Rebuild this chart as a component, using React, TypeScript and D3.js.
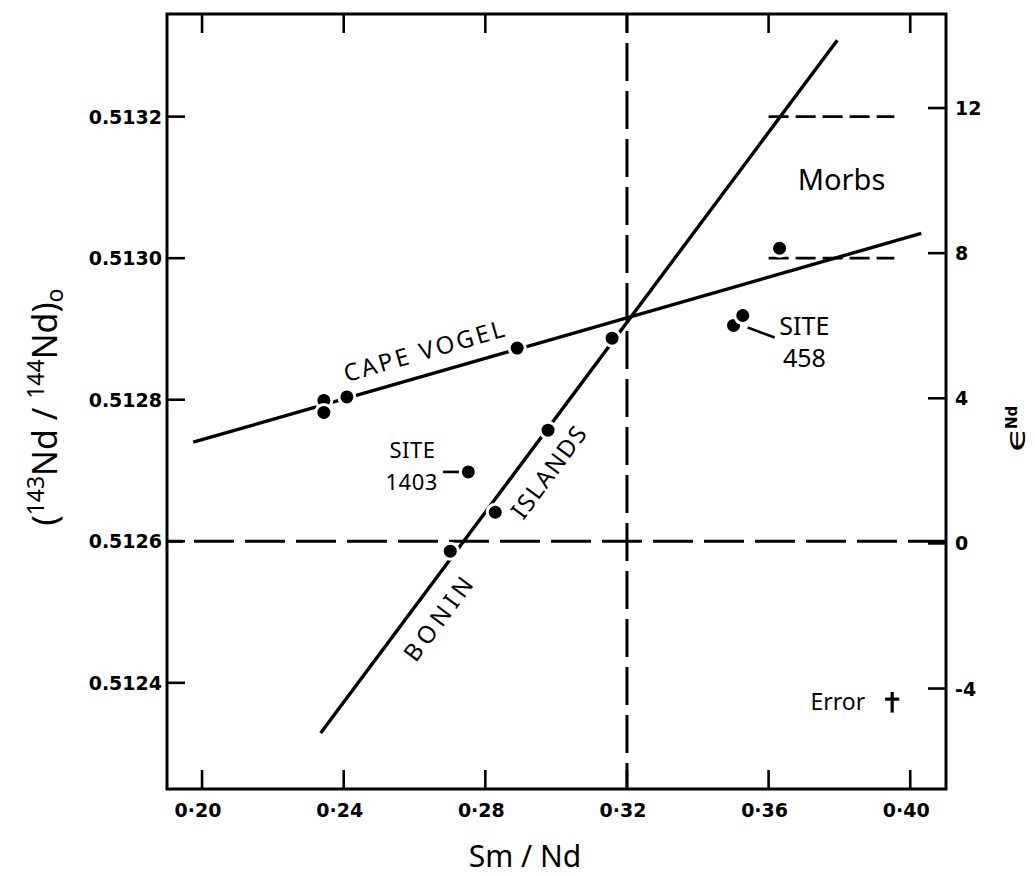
import React from "react";
import * as d3 from "d3";

// ---------- data ----------
const xTicks = [0.2, 0.24, 0.28, 0.32, 0.36, 0.4];
const xTickLabels = ["0·20", "0·24", "0·28", "0·32", "0·36", "0·40"];
const yTicks = [0.5124, 0.5126, 0.5128, 0.513, 0.5132];
const yTickLabels = ["0.5124", "0.5126", "0.5128", "0.5130", "0.5132"];
const epsTicks = [-4, 0, 4, 8, 12];
const epsTickLabels = ["-4", "0", "4", "8", "12"];
const R_REF = 0.512597; // ratio at which eps = 0

const capeVogelLine: [number, number][] = [
  [0.1975, 0.51274],
  [0.4031, 0.513035],
];
const boninLine: [number, number][] = [
  [0.2335, 0.512329],
  [0.3794, 0.513308],
];
const capeVogelPoints: [number, number][] = [
  [0.2344, 0.512799],
  [0.2344, 0.512782],
  [0.2409, 0.512804],
  [0.289, 0.512873],
];
const boninPoints: [number, number][] = [
  [0.2701, 0.512586],
  [0.2828, 0.512641],
  [0.2977, 0.512757],
  [0.3158, 0.512887],
];
const site1403Points: [number, number][] = [[0.2752, 0.512698]];
const site458Points: [number, number][] = [
  [0.3501, 0.512905],
  [0.3527, 0.512919],
];
const morbPoints: [number, number][] = [[0.3631, 0.513014]];

const refSmNd = 0.32;
const refRatio = 0.5126;
const morbBandX = [0.36, 0.3955];
const morbBandY = [0.513, 0.5132];

const site1403Leader: [number, number][] = [
  [0.268, 0.512698],
  [0.2726, 0.512698],
];
const site458Leader: [number, number][] = [
  [0.3541, 0.512902],
  [0.3617, 0.512888],
];
const errorBar = { x: 0.3949, y: 0.512377, yTop: 0.512387, yBottom: 0.512358, xHalf: 0.002 };

// ---------- layout ----------
const W = 1035;
const H = 876;
const L = 167;
const R = 946;
const T = 14;
const B = 789;

export default function App() {
  const x = d3.scaleLinear().domain([0.1901, 0.4101]).range([L, R]);
  const y = d3.scaleLinear().domain([0.51225, 0.513345]).range([B, T]);
  const toEps = (r: number) => (r / R_REF - 1) * 1e4;
  const eps = d3
    .scaleLinear()
    .domain([toEps(0.51225), toEps(0.513345)])
    .range([B, T]);

  const line = d3
    .line<[number, number]>()
    .x((d) => x(d[0]))
    .y((d) => y(d[1]));

  const angleOf = (ln: [number, number][]) =>
    (Math.atan2(y(ln[1][1]) - y(ln[0][1]), x(ln[1][0]) - x(ln[0][0])) * 180) / Math.PI;
  const onLine = (ln: [number, number][], xv: number) => {
    const t = (xv - ln[0][0]) / (ln[1][0] - ln[0][0]);
    return ln[0][1] + t * (ln[1][1] - ln[0][1]);
  };

  const cvAngle = angleOf(capeVogelLine);
  const bnAngle = angleOf(boninLine);

  const sans = "'Noto Sans', 'DejaVu Sans', sans-serif";
  const tickFont = "'DejaVu Sans', sans-serif";

  const dot = (p: [number, number], i: number, key: string) => (
    <circle
      key={key + i}
      cx={x(p[0])}
      cy={y(p[1])}
      r={6.5}
      fill="#000"
      stroke="#fff"
      strokeWidth={6}
      paintOrder="stroke"
    />
  );

  const rotLabel = (
    ln: [number, number][],
    xv: number,
    ang: number,
    off: number,
    text: string,
    len: number,
    key: string
  ) => (
    <g key={key} transform={`translate(${x(xv)},${y(onLine(ln, xv))}) rotate(${ang})`}>
      <text
        y={off}
        textAnchor="middle"
        dominantBaseline="central"
        fontFamily={sans}
        fontSize={24}
        textLength={len}
        lengthAdjust="spacing"
      >
        {text}
      </text>
    </g>
  );

  return (
    <div style={{ position: "absolute", left: 0, top: 0 }}>
      <svg width={W} height={H} style={{ display: "block", background: "#fff" }}>
        {/* dashed reference lines */}
        <line
          x1={x(refSmNd)}
          x2={x(refSmNd)}
          y1={T}
          y2={B}
          stroke="#000"
          strokeWidth={3}
          strokeDasharray="38 10"
          strokeDashoffset={19}
        />
        <line
          x1={L}
          x2={R}
          y1={y(refRatio)}
          y2={y(refRatio)}
          stroke="#000"
          strokeWidth={3}
          strokeDasharray="40 11"
          strokeDashoffset={24}
        />
        {morbBandY.map((v, i) => (
          <line
            key={"mb" + i}
            x1={x(morbBandX[0])}
            x2={x(morbBandX[1])}
            y1={y(v)}
            y2={y(v)}
            stroke="#000"
            strokeWidth={2.8}
            strokeDasharray="20 7"
          />
        ))}

        {/* regression lines */}
        <path d={line(capeVogelLine) || ""} stroke="#000" strokeWidth={3.4} fill="none" />
        <path d={line(boninLine) || ""} stroke="#000" strokeWidth={3.4} fill="none" />

        {/* leaders */}
        <path d={line(site1403Leader) || ""} stroke="#000" strokeWidth={2.6} fill="none" />
        <path d={line(site458Leader) || ""} stroke="#000" strokeWidth={2.6} fill="none" />

        {/* points */}
        {capeVogelPoints.map((p, i) => dot(p, i, "cv"))}
        {boninPoints.map((p, i) => dot(p, i, "bn"))}
        {site1403Points.map((p, i) => dot(p, i, "s1"))}
        {site458Points.map((p, i) => dot(p, i, "s4"))}
        {morbPoints.map((p, i) => dot(p, i, "mo"))}

        {/* error symbol */}
        <line
          x1={x(errorBar.x)}
          x2={x(errorBar.x)}
          y1={y(errorBar.yTop)}
          y2={y(errorBar.yBottom)}
          stroke="#000"
          strokeWidth={3.2}
        />
        <line
          x1={x(errorBar.x - errorBar.xHalf)}
          x2={x(errorBar.x + errorBar.xHalf)}
          y1={y(errorBar.y)}
          y2={y(errorBar.y)}
          stroke="#000"
          strokeWidth={3.2}
        />

        {/* frame */}
        <rect x={L} y={T} width={R - L} height={B - T} fill="none" stroke="#000" strokeWidth={3} />

        {/* x ticks (bottom and top) */}
        {xTicks.map((t, i) => (
          <g key={"xt" + i}>
            <line x1={x(t)} x2={x(t)} y1={B} y2={B - 19} stroke="#000" strokeWidth={2.6} />
            <line x1={x(t)} x2={x(t)} y1={T} y2={T + 19} stroke="#000" strokeWidth={2.6} />
            <text
              x={x(t) - 4}
              y={B + 28}
              textAnchor="middle"
              fontFamily={tickFont}
              fontWeight="bold"
              fontSize={19}
            >
              {xTickLabels[i]}
            </text>
          </g>
        ))}

        {/* left ticks */}
        {yTicks.map((t, i) => (
          <g key={"yt" + i}>
            <line x1={L} x2={L + 18} y1={y(t)} y2={y(t)} stroke="#000" strokeWidth={2.6} />
            <text
              x={L - 5}
              y={y(t) + 7}
              textAnchor="end"
              fontFamily={tickFont}
              fontWeight="bold"
              fontSize={19}
            >
              {yTickLabels[i]}
            </text>
          </g>
        ))}

        {/* right eps ticks */}
        {epsTicks.map((t, i) => (
          <g key={"et" + i}>
            <line x1={R} x2={R - 18} y1={eps(t)} y2={eps(t)} stroke="#000" strokeWidth={2.6} />
            <text
              x={R + 9}
              y={eps(t) + 7}
              textAnchor="start"
              fontFamily={tickFont}
              fontWeight="bold"
              fontSize={19}
            >
              {epsTickLabels[i]}
            </text>
          </g>
        ))}

        {/* axis titles */}
        <text x={525} y={867} textAnchor="middle" fontFamily={sans} fontSize={30}>
          Sm / Nd
        </text>
        <g transform={`translate(57,${407}) rotate(-90)`}>
          <text textAnchor="middle" fontFamily={sans} fontSize={34}>
            <tspan>(</tspan>
            <tspan fontSize={23} dy={-13}>143</tspan>
            <tspan dy={13}>Nd{"\u00A0/\u00A0"}</tspan>
            <tspan fontSize={23} dy={-13}>144</tspan>
            <tspan dy={13}>Nd)</tspan>
            <tspan fontSize={23} dy={6}>o</tspan>
          </text>
        </g>
        <g transform={`translate(1025,452) rotate(-90)`}>
          <text
            transform="scale(1.6,1)"
            fontFamily="'DejaVu Sans', sans-serif"
            fontSize={26}
          >
            ϵ
          </text>
          <text
            x={23}
            y={-8}
            fontFamily="'DejaVu Sans', sans-serif"
            fontSize={15}
            fontWeight="bold"
          >
            Nd
          </text>
        </g>

        {/* line labels */}
        {rotLabel(capeVogelLine, 0.2645, cvAngle, -25, "CAPE VOGEL", 166, "cvl")}
        {rotLabel(boninLine, 0.2918, bnAngle, 26, "ISLANDS", 108, "isl")}
        {rotLabel(boninLine, 0.2608, bnAngle, 25, "BONIN", 98, "bon")}

        {/* annotations */}
        <text x={x(0.2594)} y={y(0.512717)} textAnchor="middle" fontFamily={sans} fontSize={22} letterSpacing={0.5}>
          SITE
        </text>
        <text x={x(0.2592)} y={y(0.512673)} textAnchor="middle" fontFamily={sans} fontSize={22} letterSpacing={0.5}>
          1403
        </text>
        <text x={x(0.3701)} y={y(0.512891)} textAnchor="middle" fontFamily={sans} fontSize={25}>
          SITE
        </text>
        <text x={x(0.3701)} y={y(0.512846)} textAnchor="middle" fontFamily={sans} fontSize={25}>
          458
        </text>
        <text x={x(0.3806)} y={y(0.513096)} textAnchor="middle" fontFamily={sans} fontSize={29}>
          Morbs
        </text>
        <text x={x(0.3873)} y={y(0.512361)} textAnchor="end" fontFamily={sans} fontSize={23}>
          Error
        </text>
      </svg>
    </div>
  );
}
